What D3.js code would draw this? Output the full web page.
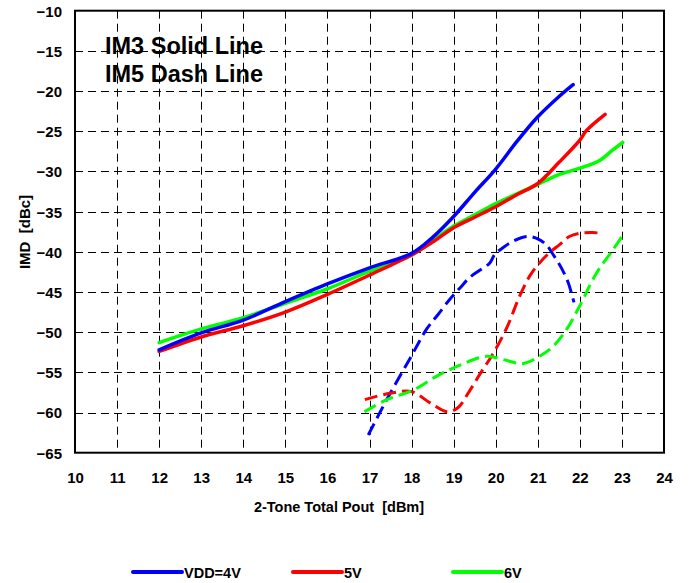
<!DOCTYPE html>
<html>
<head>
<meta charset="utf-8">
<script src="https://cdn.jsdelivr.net/npm/d3@7/dist/d3.min.js"></script>
<style>
  html, body { margin: 0; padding: 0; background: #fff; }
  svg { display: block; }
  text { font-family: Arial, "Liberation Sans", sans-serif; font-weight: bold; fill: #000; white-space: pre; }
</style>
</head>
<body>
<svg id="chart" width="690" height="583"></svg>
<script>
// ---- data ----
const xTicks = [10, 11, 12, 13, 14, 15, 16, 17, 18, 19, 20, 21, 22, 23, 24];
const yTicks = [-10, -15, -20, -25, -30, -35, -40, -45, -50, -55, -60, -65];

// IM3 (solid)
const im3_4V = [[12,-52.2],[13,-50.1],[14,-48.5],[15,-46.2],[16,-44.0],[17,-42.0],[18,-40.2],[18.5,-38.2],[19,-35.6],[19.5,-32.6],[20,-29.7],[20.5,-26.3],[21,-23.2],[21.5,-20.7],[21.84,-19.2]];
const im3_5V = [[12,-52.4],[13,-50.6],[14,-49.2],[15,-47.5],[16,-45.3],[17,-42.9],[18,-40.4],[18.5,-38.8],[19,-37.0],[19.5,-35.7],[20,-34.4],[20.5,-32.9],[21,-31.5],[21.5,-28.9],[22,-26.1],[22.16,-24.9],[22.6,-22.9]];
const im3_6V = [[12,-51.3],[13,-49.6],[14,-48.2],[15,-46.4],[16,-44.6],[17,-42.4],[18,-40.4],[18.5,-38.6],[19,-36.8],[19.5,-35.4],[20,-34.0],[20.5,-32.8],[21,-31.6],[21.5,-30.4],[22,-29.6],[22.48,-28.6],[22.79,-27.3],[23.02,-26.4]];

// IM5 (dashed)
const im5_4V = [[16.97,-62.8],[17.45,-58.0],[17.96,-53.3],[18.36,-49.6],[18.63,-47.8],[18.91,-45.9],[19.15,-44.5],[19.38,-43.2],[19.62,-42.3],[19.86,-41.4],[19.98,-40.3],[20.17,-39.5],[20.41,-38.7],[20.73,-38.1],[20.96,-38.3],[21.2,-39.1],[21.36,-40.3],[21.56,-42.0],[21.72,-43.8],[21.86,-46.3]];
const im5_5V = [[16.89,-58.4],[17.49,-57.6],[18.0,-57.4],[18.44,-58.8],[18.84,-59.9],[19.1,-59.4],[19.38,-57.3],[19.65,-55.0],[19.9,-53.0],[20.25,-49.6],[20.57,-45.5],[20.81,-43.0],[21.04,-41.4],[21.28,-40.1],[21.52,-39.1],[21.75,-38.1],[21.99,-37.7],[22.3,-37.6],[22.5,-37.7]];
const im5_6V = [[16.88,-59.9],[17.41,-58.4],[18.04,-57.2],[18.59,-55.5],[19.15,-54.1],[19.78,-53.0],[20.17,-53.4],[20.65,-53.9],[21.04,-53.0],[21.36,-51.8],[21.68,-49.7],[21.99,-46.8],[22.39,-42.7],[22.78,-39.8],[23.0,-38.1]];

const seriesNames = ["VDD=4V", "5V", "6V"];
const seriesColors = ["#0000ff", "#ff0000", "#00ff00"];
const annotation = ["IM3 Solid Line", "IM5 Dash Line"];

// ---- layout ----
const svg = d3.select("#chart");
const L = 75, R = 664, T = 10.7, B = 452.7;
const x = d3.scaleLinear().domain([10, 24]).range([L, R]);
const y = d3.scaleLinear().domain([-10, -65]).range([T, B]);

// grid
const grid = svg.append("g");
grid.selectAll("line.v").data(xTicks.slice(1, -1)).enter().append("line")
  .attr("x1", d => Math.round(x(d)) + 0.5).attr("x2", d => Math.round(x(d)) + 0.5)
  .attr("y1", T).attr("y2", B)
  .attr("stroke", "#000").attr("stroke-width", 1).attr("stroke-dasharray", "8,5");
grid.selectAll("line.h").data(yTicks.slice(1, -1)).enter().append("line")
  .attr("x1", L).attr("x2", R)
  .attr("y1", d => Math.round(y(d)) + 0.5).attr("y2", d => Math.round(y(d)) + 0.5)
  .attr("stroke", "#000").attr("stroke-width", 1).attr("stroke-dasharray", "8,5");

// frame
svg.append("rect").attr("x", L).attr("y", T).attr("width", R - L).attr("height", B - T)
  .attr("fill", "none").attr("stroke", "#000").attr("stroke-width", 2);

// axes (labels only)
const xAxis = d3.axisBottom(x).tickValues(xTicks).tickSize(0).tickPadding(0).tickFormat(d3.format("d"));
const gx = svg.append("g").attr("transform", `translate(0,${B})`).call(xAxis);
gx.select(".domain").remove();
gx.selectAll("text").attr("dy", null).attr("y", 30).style("font-size", "15px")
  .style("font-family", "Arial, 'Liberation Sans', sans-serif").style("font-weight", "bold");

const yAxis = d3.axisLeft(y).tickValues(yTicks).tickSize(0).tickPadding(0).tickFormat(d3.format("d"));
const gy = svg.append("g").attr("transform", `translate(${L - 13},0)`).call(yAxis);
gy.select(".domain").remove();
gy.selectAll("text").attr("dy", "0.36em").style("font-size", "15px")
  .style("font-family", "Arial, 'Liberation Sans', sans-serif").style("font-weight", "bold");

// axis titles
svg.append("text").attr("x", 339).attr("y", 512).attr("text-anchor", "middle")
  .style("font-size", "14.5px").text("2-Tone Total Pout  [dBm]");
svg.append("text").attr("transform", "translate(30,232) rotate(-90)").attr("text-anchor", "middle")
  .style("font-size", "15px").text("IMD  [dBc]");

// annotation
svg.append("text").attr("x", 105).attr("y", 54).style("font-size", "23.5px").text(annotation[0]);
svg.append("text").attr("x", 105).attr("y", 82).style("font-size", "23.5px").text(annotation[1]);

// lines
const line = d3.line().x(d => x(d[0])).y(d => y(d[1])).curve(d3.curveCatmullRom.alpha(0.5));
const plot = svg.append("g");
const dashed = [im5_4V, im5_5V, im5_6V];
const solid = [im3_4V, im3_5V, im3_6V];
dashed.forEach((s, i) => {
  plot.append("path").datum(s).attr("d", line).attr("fill", "none")
    .attr("stroke", seriesColors[i]).attr("stroke-width", 3).attr("stroke-dasharray", "13,6");
});
[2, 1, 0].forEach(i => {
  plot.append("path").datum(solid[i]).attr("d", line).attr("fill", "none")
    .attr("stroke", seriesColors[i]).attr("stroke-width", 3.5).attr("stroke-linecap", "round");
});

// legend
const legX = [133, 293, 453];
const leg = svg.append("g");
seriesNames.forEach((n, i) => {
  leg.append("line").attr("x1", legX[i]).attr("x2", legX[i] + 49).attr("y1", 572).attr("y2", 572)
    .attr("stroke", seriesColors[i]).attr("stroke-width", 4).attr("stroke-linecap", "round");
  leg.append("text").attr("x", legX[i] + 51).attr("y", 577.5).style("font-size", "14.5px").text(n);
});
</script>
</body>
</html>
